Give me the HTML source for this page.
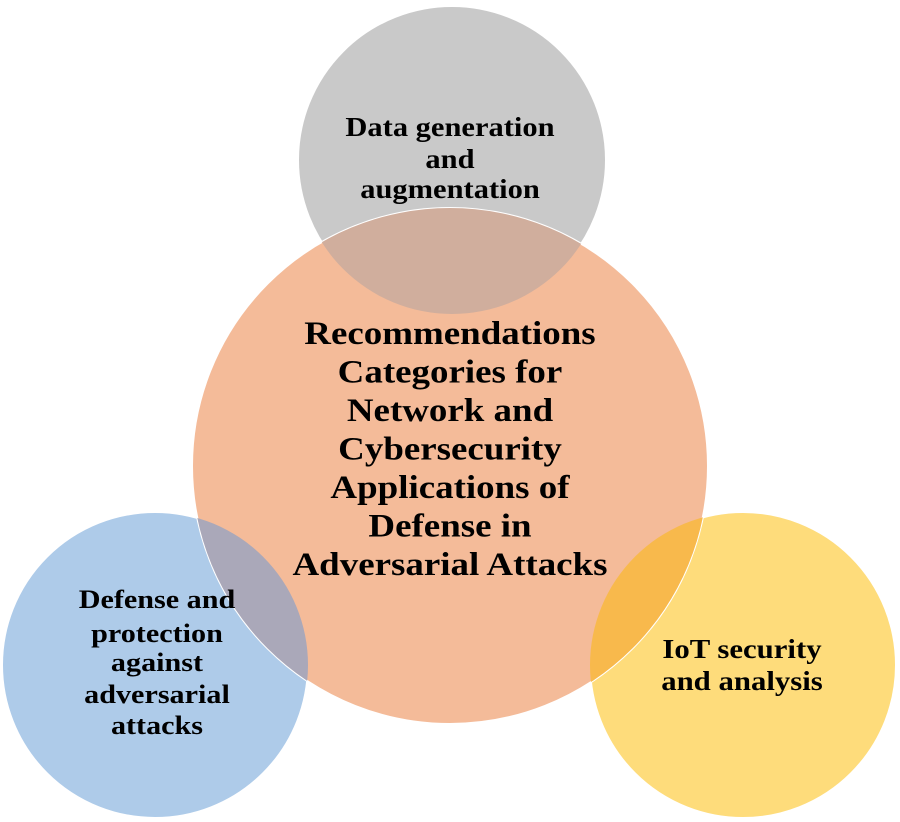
<!DOCTYPE html>
<html><head><meta charset="utf-8"><style>
html,body{margin:0;padding:0;background:#fff;}
svg{display:block}
text{font-family:"Liberation Serif",serif;font-weight:bold;fill:#000;text-anchor:middle}
</style></head><body>
<svg width="900" height="822" viewBox="0 0 900 822" xmlns="http://www.w3.org/2000/svg">
<defs>
<clipPath id="co"><circle cx="450" cy="466" r="258"/></clipPath>
</defs>
<circle cx="452" cy="160" r="154" fill="#c9c9c9" stroke="#fff" stroke-width="2"/>
<circle cx="155" cy="665" r="153" fill="#aecbe9" stroke="#fff" stroke-width="2"/>
<circle cx="743" cy="665" r="153" fill="#fedc7b" stroke="#fff" stroke-width="2"/>
<circle cx="450" cy="466" r="258" fill="#f4bb99" stroke="#fff" stroke-width="2"/>
<g clip-path="url(#co)">
<circle cx="452" cy="160" r="154" fill="#d0ae9d"/>
<circle cx="155" cy="665" r="153" fill="#aaa8b9"/>
<circle cx="743" cy="665" r="153" fill="#f8b94c"/>
</g>
<g font-size="27" transform="translate(450,0) scale(1.13,1) translate(-450,0)">
<text x="450" y="136">Data generation</text>
<text x="450" y="168">and</text>
<text x="450" y="198">augmentation</text>
</g>
<g font-size="33" transform="translate(450,0) scale(1.12,1) translate(-450,0)">
<text x="450" y="344">Recommendations</text>
<text x="450" y="382.5">Categories for</text>
<text x="450" y="421">Network and</text>
<text x="450" y="459.5">Cybersecurity</text>
<text x="450" y="498">Applications of</text>
<text x="450" y="536.5">Defense in</text>
<text x="450" y="575">Adversarial Attacks</text>
</g>
<g font-size="26" transform="translate(157,0) scale(1.16,1) translate(-157,0)">
<text x="157" y="608">Defense and</text>
<text x="157" y="642">protection</text>
<text x="157" y="671">against</text>
<text x="157" y="703">adversarial</text>
<text x="157" y="734">attacks</text>
</g>
<g font-size="27" transform="translate(742,0) scale(1.14,1) translate(-742,0)">
<text x="742" y="658">IoT security</text>
<text x="742" y="690">and analysis</text>
</g>
</svg>
</body></html>
